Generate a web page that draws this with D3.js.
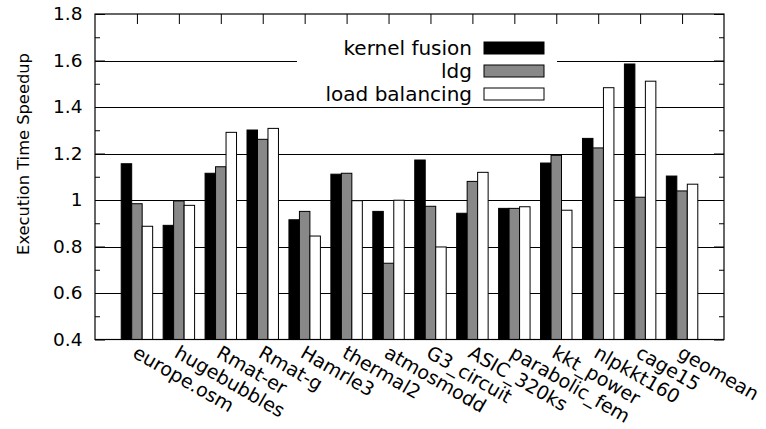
<!DOCTYPE html>
<html><head><meta charset="utf-8">
<script src="https://cdn.jsdelivr.net/npm/d3@7"></script>
<style>
body{margin:0;background:#fff}
text{font-family:"DejaVu Sans",sans-serif;fill:#000}
</style>
</head><body>
<svg id="chart" width="766" height="429"></svg>
<script>
const categories = ["europe.osm","hugebubbles","Rmat-er","Rmat-g","Hamrle3","thermal2","atmosmodd","G3_circuit","ASIC_320ks","parabolic_fem","kkt_power","nlpkkt160","cage15","geomean"];
const kernelFusion = [1.156,0.891,1.115,1.301,0.915,1.111,0.951,1.172,0.943,0.964,1.159,1.265,1.585,1.103];
const ldg = [0.984,0.996,1.143,1.261,0.951,1.115,0.728,0.973,1.080,0.964,1.192,1.224,1.012,1.039];
const loadBalancing = [0.887,0.977,1.291,1.308,0.845,0.997,0.999,0.798,1.119,0.971,0.956,1.483,1.511,1.068];
const seriesNames = ["kernel fusion","ldg","load balancing"];
const seriesColors = ["#000000","#888888","#ffffff"];
const yTicks = [0.4,0.6,0.8,1.0,1.2,1.4,1.6,1.8];
const yTickLabels = ["0.4","0.6","0.8","1","1.2","1.4","1.6","1.8"];
const yMinorTicks = [0.5,0.7,0.9,1.1,1.3,1.5,1.7];
const gridTicks = [0.6,0.8,1.0,1.2,1.4,1.6];
const yLabel = "Execution Time Speedup";

const series = [kernelFusion, ldg, loadBalancing];
const svg = d3.select("#chart");
const L = 95, R = 724, T = 14, B = 339.5;
const x = d3.scaleLinear().domain([-1, categories.length]).range([L, R]);
const y = d3.scaleLinear().domain([0.4, 1.8]).range([B, T]);
const offsets = d3.scaleBand().domain([0,1,2]).range([-0.375, 0.375]);
const bw = x(offsets.bandwidth()) - x(0);

// grid
const grid = svg.append("g").attr("transform", `translate(${L},0)`)
  .call(d3.axisLeft(y).tickValues(gridTicks).tickSize(-(R - L)).tickFormat(""));
grid.select(".domain").remove();
grid.selectAll("line").attr("stroke", "#000").attr("stroke-width", 1).attr("shape-rendering", "crispEdges");

// bottom ticks (behind bars) and rotated category labels
const bAx = svg.append("g").attr("transform", `translate(0,${B})`)
  .call(d3.axisBottom(x).tickValues(d3.range(categories.length)).tickSize(-10).tickFormat(i => categories[i]));
bAx.select(".domain").remove();
bAx.selectAll("line").attr("stroke", "#000");
bAx.selectAll("text")
  .attr("x", null).attr("y", null).attr("dy", null)
  .attr("text-anchor", "start")
  .attr("transform", "translate(-6,17) rotate(30)")
  .style("font-size", "19px")
  .style("font-family", '"DejaVu Sans",sans-serif');

// legend background
svg.append("rect").attr("x", 297).attr("y", 34).attr("width", 260).attr("height", 70).attr("fill", "#fff");

// bars
series.forEach((vals, s) => {
  svg.append("g").selectAll("rect").data(vals).join("rect")
    .attr("x", (d, i) => x(i + offsets(s)))
    .attr("y", d => y(d))
    .attr("width", bw)
    .attr("height", d => y(0.4) - y(d))
    .attr("fill", seriesColors[s])
    .attr("stroke", "#000")
    .attr("stroke-width", 1);
});

// left axis
const lAx = svg.append("g").attr("transform", `translate(${L},0)`)
  .call(d3.axisLeft(y).tickValues(yTicks).tickSize(-10).tickPadding(12.5).tickFormat((d, i) => yTickLabels[i]));
lAx.select(".domain").remove();
lAx.selectAll("line").attr("stroke", "#000");
lAx.selectAll("text").style("font-size", "18.5px").style("font-family", '"DejaVu Sans",sans-serif');
const lMin = svg.append("g").attr("transform", `translate(${L},0)`)
  .call(d3.axisLeft(y).tickValues(yMinorTicks).tickSize(-5).tickFormat(""));
lMin.select(".domain").remove();
lMin.selectAll("line").attr("stroke", "#000");

// right axis
const rAx = svg.append("g").attr("transform", `translate(${R},0)`)
  .call(d3.axisRight(y).tickValues(yTicks).tickSize(-10).tickFormat(""));
rAx.select(".domain").remove();
rAx.selectAll("line").attr("stroke", "#000");
const rMin = svg.append("g").attr("transform", `translate(${R},0)`)
  .call(d3.axisRight(y).tickValues(yMinorTicks).tickSize(-5).tickFormat(""));
rMin.select(".domain").remove();
rMin.selectAll("line").attr("stroke", "#000");

// top axis
const tAx = svg.append("g").attr("transform", `translate(0,${T})`)
  .call(d3.axisTop(x).tickValues(d3.range(categories.length)).tickSize(-10).tickFormat(""));
tAx.select(".domain").remove();
tAx.selectAll("line").attr("stroke", "#000");

// frame
svg.append("rect").attr("x", L).attr("y", T).attr("width", R - L).attr("height", B - T)
  .attr("fill", "none").attr("stroke", "#000").attr("stroke-width", 1.2);

// y label
svg.append("text").attr("transform", "translate(29,154) rotate(-90)")
  .attr("text-anchor", "middle").style("font-size", "16.3px").text(yLabel);

// legend
const lg = svg.append("g");
seriesNames.forEach((n, s) => {
  const cy = 48 + s * 23;
  lg.append("text").attr("x", 472).attr("y", cy).attr("dy", "0.35em")
    .attr("text-anchor", "end").style("font-size", "20px").text(n);
  lg.append("rect").attr("x", 484).attr("y", cy - 6).attr("width", 60).attr("height", 12)
    .attr("fill", seriesColors[s]).attr("stroke", "#000").attr("stroke-width", 1);
});
</script>
</body></html>
